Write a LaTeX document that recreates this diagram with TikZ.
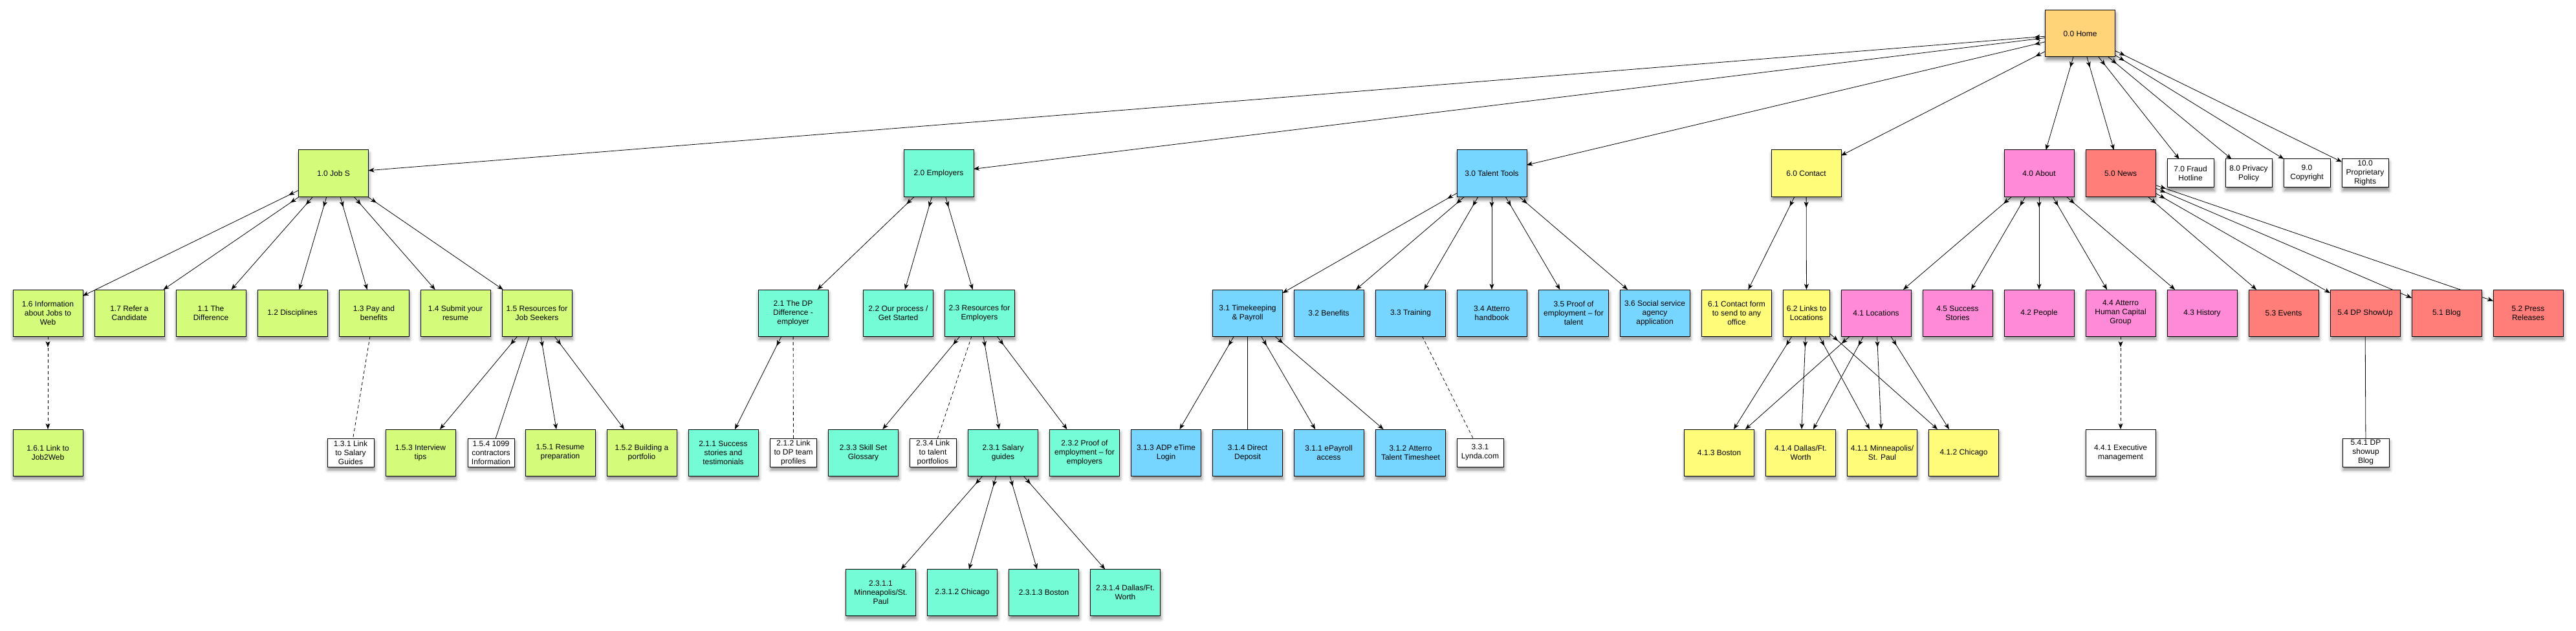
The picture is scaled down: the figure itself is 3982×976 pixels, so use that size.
\documentclass[tikz,border=0pt]{standalone}
\usepackage{fontspec}
\setmainfont{Liberation Sans}
\usetikzlibrary{arrows.meta,shadows.blur,decorations.markings}
\definecolor{cHome}{HTML}{FFD479}
\definecolor{cJob}{HTML}{D4FB79}
\definecolor{cEmp}{HTML}{73FCD6}
\definecolor{cTal}{HTML}{76D6FF}
\definecolor{cCon}{HTML}{FFFC79}
\definecolor{cAbt}{HTML}{FF8AD8}
\definecolor{cNews}{HTML}{FF7E79}
\pgfdeclarelayer{bgfill}
\pgfdeclarelayer{edges}
\pgfsetlayers{bgfill,edges,main}
\tikzset{
 shad/.style={blur shadow={shadow xshift=1pt, shadow yshift=-5pt, shadow blur radius=5pt, shadow opacity=45}},
 box/.style={draw=black, line width=1pt, minimum width=108pt, minimum height=72pt,
   inner sep=0pt, outer sep=0pt, align=center, font=\fontsize{12}{14}\selectfont, shad},
 nbox/.style={box, minimum width=72pt},
 sbox/.style={box, fill=white, minimum width=72pt, minimum height=44pt},
 conn/.style={line width=.8pt},
 link/.style={conn, ->, postaction={decorate, decoration={markings, mark=at position 17pt with {\arrow{>}}}}},
 dlink/.style={link, dash pattern=on 5pt off 4pt},
 dline/.style={conn, dash pattern=on 5pt off 4pt},
}
\begin{document}
\begin{tikzpicture}[x=1pt, y=-1pt, >={Stealth[length=9pt,width=7pt,inset=2.5pt]}]
\begin{pgfonlayer}{bgfill}
\fill[white] (0,0) rectangle (3982,976);
\end{pgfonlayer}
% warm-up of the shadow machinery, outside the page and outside the bounding box
\begin{scope}[overlay]
\path[shad, fill=white] (-300,-300) rectangle (-250,-250);
\end{scope}
% row 0
\node[box, fill=cHome] (n00) at (3215.5,52) {0.0 Home};
% row 1
\node[box, fill=cJob] (n10) at (515.5,268) {1.0 Job S};
\node[box, fill=cEmp] (n20) at (1451,268) {2.0 Employers};
\node[box, fill=cTal] (n30) at (2306,268) {3.0 Talent Tools};
\node[box, fill=cCon] (n60) at (2792,268) {6.0 Contact};
\node[box, fill=cAbt] (n40) at (3152,268) {4.0 About};
\node[box, fill=cNews] (n50) at (3278,268) {5.0 News};
\node[sbox] (n70) at (3386,268) {7.0 Fraud\\Hotline};
\node[sbox] (n80) at (3476,268) {8.0 Privacy\\Policy};
\node[sbox] (n90) at (3566,268) {9.0\\Copyright};
\node[sbox] (n100) at (3656,268) {10.0\\Proprietary\\Rights};
% row 2
\node[box, fill=cJob] (n16) at (74,484) {1.6 Information\\about Jobs to\\Web};
\node[box, fill=cJob] (n17) at (200,484) {1.7 Refer a\\Candidate};
\node[box, fill=cJob] (n11) at (326,484) {1.1 The\\Difference};
\node[box, fill=cJob] (n12) at (452,484) {1.2 Disciplines};
\node[box, fill=cJob] (n13) at (578,484) {1.3 Pay and\\benefits};
\node[box, fill=cJob] (n14) at (704,484) {1.4 Submit your\\resume};
\node[box, fill=cJob] (n15) at (830,484) {1.5 Resources for\\Job Seekers};
\node[box, fill=cEmp] (n21) at (1226,484) {2.1 The DP\\Difference -\\employer};
\node[box, fill=cEmp] (n22) at (1388.5,484) {2.2 Our process /\\Get Started};
\node[box, fill=cEmp] (n23) at (1514,484) {2.3 Resources for\\Employers};
\node[box, fill=cTal] (n31) at (1928.5,484) {3.1 Timekeeping\\\& Payroll};
\node[box, fill=cTal] (n32) at (2054,484) {3.2 Benefits};
\node[box, fill=cTal] (n33) at (2180.5,484) {3.3 Training};
\node[box, fill=cTal] (n34) at (2306,484) {3.4 Atterro\\handbook};
\node[box, fill=cTal] (n35) at (2432.5,484) {3.5 Proof of\\employment – for\\talent};
\node[box, fill=cTal] (n36) at (2558,484) {3.6 Social service\\agency\\application};
\node[box, fill=cCon] (n61) at (2684.5,484) {6.1 Contact form\\to send to any\\office};
\node[nbox, fill=cCon] (n62) at (2792.5,484) {6.2 Links to\\Locations};
\node[box, fill=cAbt] (n41) at (2900,484) {4.1 Locations};
\node[box, fill=cAbt] (n45) at (3026,484) {4.5 Success\\Stories};
\node[box, fill=cAbt] (n42) at (3152,484) {4.2 People};
\node[box, fill=cAbt] (n44) at (3278,484) {4.4 Atterro\\Human Capital\\Group};
\node[box, fill=cAbt] (n43) at (3404,484) {4.3 History};
\node[box, fill=cNews] (n53) at (3530,484) {5.3 Events};
\node[box, fill=cNews] (n54) at (3656,484) {5.4 DP ShowUp};
\node[box, fill=cNews] (n51) at (3782,484) {5.1 Blog};
\node[box, fill=cNews] (n52) at (3908,484) {5.2 Press\\Releases};
% row 3
\node[box, fill=cJob] (n161) at (74,700) {1.6.1 Link to\\Job2Web};
\node[sbox] (n131) at (542,700) {1.3.1 Link\\to Salary\\Guides};
\node[box, fill=cJob] (n153) at (650,700) {1.5.3 Interview\\tips};
\node[sbox] (n154) at (759,700) {1.5.4 1099\\contractors\\Information};
\node[box, fill=cJob] (n151) at (866,700) {1.5.1 Resume\\preparation};
\node[box, fill=cJob] (n152) at (992,700) {1.5.2 Building a\\portfolio};
\node[box, fill=cEmp] (n211) at (1118,700) {2.1.1 Success\\stories and\\testimonials};
\node[sbox] (n212) at (1226.5,700) {2.1.2 Link\\to DP team\\profiles};
\node[box, fill=cEmp] (n233) at (1334.5,700) {2.3.3 Skill Set\\Glossary};
\node[sbox] (n234) at (1442,700) {2.3.4 Link\\to talent\\portfolios};
\node[box, fill=cEmp] (n231) at (1550.5,700) {2.3.1 Salary\\guides};
\node[box, fill=cEmp] (n232) at (1676.5,700) {2.3.2 Proof of\\employment – for\\employers};
\node[box, fill=cTal] (n313) at (1802.5,700) {3.1.3 ADP eTime\\Login};
\node[box, fill=cTal] (n314) at (1928.5,700) {3.1.4 Direct\\Deposit};
\node[box, fill=cTal] (n311) at (2054,700) {3.1.1 ePayroll\\access};
\node[box, fill=cTal] (n312) at (2180.5,700) {3.1.2 Atterro\\Talent Timesheet};
\node[sbox] (n331) at (2288,700) {3.3.1\\Lynda.com};
\node[box, fill=cCon] (n413) at (2657.5,700) {4.1.3 Boston};
\node[box, fill=cCon] (n414) at (2783.5,700) {4.1.4 Dallas/Ft.\\Worth};
\node[box, fill=cCon] (n411) at (2909.5,700) {4.1.1 Minneapolis/\\St. Paul};
\node[box, fill=cCon] (n412) at (3035.5,700) {4.1.2 Chicago};
\node[box, fill=white] (n441) at (3278,700) {4.4.1 Executive\\management};
\node[sbox] (n541) at (3657,700) {5.4.1 DP\\showup\\Blog};
% row 4
\node[box, fill=cEmp] (n2311) at (1361.5,916.5) {2.3.1.1\\Minneapolis/St.\\Paul};
\node[box, fill=cEmp] (n2312) at (1487.5,916.5) {2.3.1.2 Chicago};
\node[box, fill=cEmp] (n2313) at (1613.5,916.5) {2.3.1.3 Boston};
\node[box, fill=cEmp] (n2314) at (1739.5,916.5) {2.3.1.4 Dallas/Ft.\\Worth};
% edges
\begin{pgfonlayer}{edges}
\foreach \t in {n10,n20,n30,n60,n40,n50,n70,n80,n90,n100} \draw[link] (n00) -- (\t);
\foreach \t in {n16,n17,n11,n12,n13,n14,n15} \draw[link] (n10) -- (\t);
\draw[dlink] (n16) -- (n161);
\draw[dline] (n13) -- (n131);
\foreach \t in {n153,n151,n152} \draw[link] (n15) -- (\t);
\draw[conn] (n15) -- (n154);
\foreach \t in {n21,n22,n23} \draw[link] (n20) -- (\t);
\draw[link] (n21) -- (n211);
\draw[dline] (n21) -- (n212);
\foreach \t in {n233,n231,n232} \draw[link] (n23) -- (\t);
\draw[dline] (n23) -- (n234);
\foreach \t in {n2311,n2312,n2313,n2314} \draw[link] (n231) -- (\t);
\foreach \t in {n31,n32,n33,n34,n35,n36} \draw[link] (n30) -- (\t);
\foreach \t in {n313,n311,n312} \draw[link] (n31) -- (\t);
\draw[conn] (n31) -- (n314);
\draw[dline] (n33) -- (n331);
\foreach \t in {n61,n62} \draw[link] (n60) -- (\t);
\foreach \t in {n413,n414,n411,n412} \draw[link] (n62) -- (\t);
\foreach \t in {n41,n45,n42,n44,n43} \draw[link] (n40) -- (\t);
\foreach \t in {n413,n414,n411,n412} \draw[link] (n41) -- (\t);
\draw[dlink] (n44) -- (n441);
\foreach \t in {n53,n54,n51,n52} \draw[link] (n50) -- (\t);
\draw[conn] (n54) -- (n541);
\end{pgfonlayer}
\useasboundingbox (0,0) rectangle (3982,976);
\end{tikzpicture}
\end{document}
